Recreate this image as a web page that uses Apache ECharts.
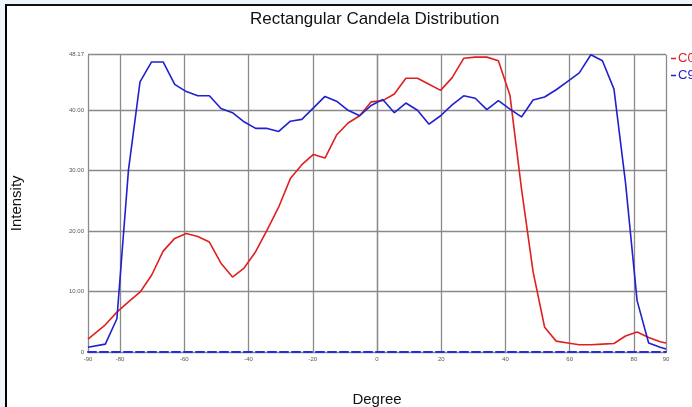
<!DOCTYPE html>
<html>
<head>
<meta charset="utf-8">
<script src="https://cdn.jsdelivr.net/npm/echarts@6/dist/echarts.min.js"></script>
<style>
  html, body { margin: 0; padding: 0; background: #eef6fc; }
  #frame { position: absolute; left: 5px; top: 4px; width: 687px; height: 403px;
           background: #fff; border-left: 2px solid #000; border-top: 2px solid #111; box-sizing: border-box; }
  #main { position: absolute; left: 0; top: 0; width: 692px; height: 407px; }
</style>
</head>
<body>
<div id="frame"></div>
<div id="main"></div>
<script>
var myChart = echarts.init(document.getElementById('main'));

// sample positions (degrees) shared by both curves
var degrees = [-90, -84.6, -81, -77.4, -73.8, -70.2, -66.6, -63, -59.4, -55.8, -52.2, -48.6, -45,
  -41.4, -37.8, -34.2, -30.6, -27, -23.4, -19.8, -16.2, -12.6, -9, -5.4, -1.8,
  1.8, 5.4, 9, 12.6, 16.2, 19.8, 23.4, 27, 30.6, 34.2, 37.8, 41.4, 45, 48.6, 52.2,
  55.8, 59.4, 63, 66.6, 70.2, 73.8, 77.4, 81, 84.6, 88.2, 90];

var c0 = [2.15, 4.5, 6.6, 8.3, 9.9, 12.7, 16.7, 18.8, 19.6, 19.1, 18.2, 14.7, 12.4,
  13.9, 16.6, 20.2, 24.0, 28.7, 31.0, 32.7, 32.1, 35.9, 37.9, 39.1, 41.4,
  41.6, 42.7, 45.3, 45.3, 44.3, 43.3, 45.4, 48.6, 48.8, 48.8, 48.2, 42.5, 27.0, 13.3, 4.1,
  1.8, 1.5, 1.2, 1.2, 1.3, 1.4, 2.65, 3.3, 2.4, 1.7, 1.5];

var c90 = [0.8, 1.3, 5.5, 30.1, 44.7, 48.0, 48.0, 44.3, 43.1, 42.4, 42.4, 40.3, 39.6,
  38.1, 37.0, 37.0, 36.5, 38.2, 38.5, 40.4, 42.3, 41.5, 40.0, 39.1, 40.8,
  41.8, 39.6, 41.2, 40.0, 37.7, 39.1, 40.9, 42.4, 42.0, 40.1, 41.6, 40.2, 38.9, 41.7, 42.2,
  43.4, 44.8, 46.2, 49.2, 48.2, 43.5, 28.0, 8.5, 1.5, 0.8, 0.5];

var xTicks = [-90, -80, -60, -40, -20, 0, 20, 40, 60, 80, 90];
var yTopLabel = '48.17';
var yMax = 49.2;

function pairs(vals) {
  return degrees.map(function (d, i) { return [d, vals[i]]; });
}

var option = {
  backgroundColor: 'transparent',
  textStyle: { fontFamily: 'Liberation Sans, Arial, sans-serif' },
  title: {
    text: 'Rectangular Candela Distribution',
    left: 245,
    top: 6,
    textStyle: { fontSize: 17, fontWeight: 'normal', color: '#111' }
  },
  legend: {
    orient: 'vertical',
    left: 666,
    top: 47,
    itemGap: 4,
    icon: 'rect',
    itemWidth: 5,
    itemHeight: 1.5,
    textStyle: { fontSize: 13, padding: [0, 0, 0, -3] },
    data: [
      { name: 'C0', textStyle: { color: '#e02020' } },
      { name: 'C90', textStyle: { color: '#2020d0' } }
    ]
  },
  grid: { left: 88, right: 26, top: 54.7, bottom: 55, outerBoundsMode: 'none' },
  xAxis: {
    type: 'value',
    min: -90,
    max: 90,
    name: 'Degree',
    nameLocation: 'middle',
    nameGap: 40,
    nameTextStyle: { fontSize: 15, color: '#111' },
    axisLine: { lineStyle: { color: '#2a2ae0', type: 'dashed', width: 2 } },
    axisTick: { show: false, customValues: xTicks },
    axisLabel: { customValues: xTicks, fontSize: 6, color: '#555', margin: 4 },
    splitLine: { lineStyle: { color: '#8a8a8a', width: 1.3 } }
  },
  yAxis: {
    type: 'value',
    min: 0,
    max: yMax,
    interval: 10,
    name: 'Intensity',
    nameLocation: 'middle',
    nameGap: 64,
    nameRotate: 90,
    nameTextStyle: { fontSize: 15, color: '#111' },
    axisLine: { show: true, lineStyle: { color: '#8a8a8a', width: 1.3 } },
    axisTick: { show: false },
    axisLabel: {
      fontSize: 6, color: '#555', margin: 4,
      formatter: function (v) {
        if (v === 0) return '0';
        if (v >= yMax) return yTopLabel;
        return v.toFixed(2);
      }
    },
    splitLine: { lineStyle: { color: '#8a8a8a', width: 1.3 } }
  },
  series: [
    {
      name: 'C0',
      type: 'line',
      data: pairs(c0),
      showSymbol: false,
      color: '#e02020',
      lineStyle: { width: 1.6 }
    },
    {
      name: 'C90',
      type: 'line',
      data: pairs(c90),
      showSymbol: false,
      color: '#2020d0',
      lineStyle: { width: 1.6 }
    }
  ]
};

myChart.setOption(option);
</script>
</body>
</html>
